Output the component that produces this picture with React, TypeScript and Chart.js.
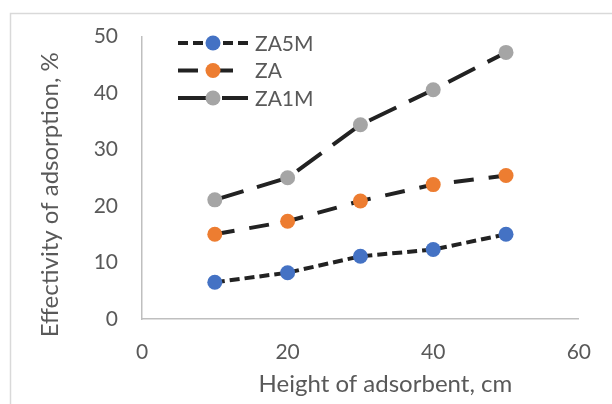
import React, { useEffect, useRef } from "react";
import { Chart, registerables } from "chart.js";

Chart.register(...registerables);

const heights = [10, 20, 30, 40, 50];
const za5m = [6.5, 8.2, 11.1, 12.3, 15.0];
const za = [15.0, 17.3, 20.9, 23.8, 25.4];
const za1m = [21.1, 25.0, 34.4, 40.6, 47.2];
const seriesNames = ["ZA5M", "ZA", "ZA1M"];
const markerColors = ["#4472C4", "#ED7D31", "#A5A5A5"];
const dashes = [[10, 5], [20, 15], [30, 14]];
const xTitle = "Height of adsorbent, cm";
const yTitle = "Effectivity of adsorption, %";

const FONT = "Lato";
const TEXT = "#595959";
const LINE = "#222222";

const frame = {
  id: "frame",
  beforeDraw(chart: any) {
    const ctx = chart.ctx;
    ctx.save();
    ctx.strokeStyle = "#d9d9d9";
    ctx.lineWidth = 1.5;
    ctx.beginPath();
    ctx.moveTo(10.5, 404);
    ctx.lineTo(10.5, 13.5);
    ctx.lineTo(612, 13.5);
    ctx.stroke();
    ctx.restore();
  },
};

const titlesPlugin = {
  id: "axisTitles",
  afterDraw(chart: any) {
    const ctx = chart.ctx;
    const area = chart.chartArea;
    ctx.save();
    ctx.fillStyle = TEXT;
    ctx.font = `24px ${FONT}`;
    ctx.textAlign = "center";
    ctx.textBaseline = "middle";
    ctx.fillText(xTitle, (area.left + area.right) / 2 + 25, 384);
    ctx.translate(50, (area.top + area.bottom) / 2 + 17);
    ctx.rotate(-Math.PI / 2);
    ctx.fillText(yTitle, 0, 0);
    ctx.restore();
  },
};

const legendPlugin = {
  id: "customLegend",
  afterDraw(chart: any) {
    const ctx = chart.ctx;
    ctx.save();
    chart.data.datasets.forEach((ds: any, i: number) => {
      const y = 43 + i * 27.5;
      ctx.strokeStyle = LINE;
      ctx.lineWidth = 4;
      ctx.setLineDash(ds.borderDash);
      ctx.beginPath();
      ctx.moveTo(178, y);
      ctx.lineTo(248, y);
      ctx.stroke();
      ctx.setLineDash([]);
      ctx.fillStyle = ds.pointBackgroundColor;
      ctx.beginPath();
      ctx.arc(213, y, 7.5, 0, Math.PI * 2);
      ctx.fill();
      ctx.fillStyle = TEXT;
      ctx.font = `21px ${FONT}`;
      ctx.textBaseline = "middle";
      ctx.textAlign = "left";
      ctx.fillText(ds.label, 255, y + 1);
    });
    ctx.restore();
  },
};

export default function App() {
  const ref = useRef<HTMLCanvasElement>(null);
  useEffect(() => {
    const values = [za5m, za, za1m];
    const chart = new Chart(ref.current!, {
      type: "line",
      data: {
        datasets: values.map((v, i) => ({
          label: seriesNames[i],
          data: heights.map((h, j) => ({ x: h, y: v[j] })),
          borderColor: LINE,
          borderWidth: 4,
          borderDash: dashes[i],
          pointRadius: 7.5,
          pointBackgroundColor: markerColors[i],
          pointBorderColor: markerColors[i],
          pointBorderWidth: 0,
          tension: 0,
        })),
      },
      options: {
        responsive: false,
        animation: false,
        layout: { padding: { left: 36, top: 36, right: 23, bottom: 7 } },
        plugins: { legend: { display: false }, tooltip: { enabled: false } },
        scales: {
          x: {
            type: "linear",
            min: 0,
            max: 60,
            afterFit: (s: any) => { s.height = 78; },
            ticks: { stepSize: 20, color: TEXT, font: { family: FONT, size: 21 }, padding: 21 },
            grid: { display: false, drawTicks: false },
            border: { color: "#bfbfbf", width: 1.5 },
            title: { display: false },
          },
          y: {
            min: 0,
            max: 50,
            afterFit: (s: any) => { s.width = 106; },
            ticks: { stepSize: 10, color: TEXT, font: { family: FONT, size: 21 }, padding: 24 },
            grid: { display: false, drawTicks: false },
            border: { color: "#bfbfbf", width: 1.5 },
            title: { display: false },
          },
        },
      },
      plugins: [frame, titlesPlugin, legendPlugin],
    });
    return () => chart.destroy();
  }, []);
  return (
    <div style={{ position: "fixed", left: 0, top: 0, width: 612, height: 404, background: "#fff" }}>
      <canvas ref={ref} width={612} height={404} />
    </div>
  );
}
